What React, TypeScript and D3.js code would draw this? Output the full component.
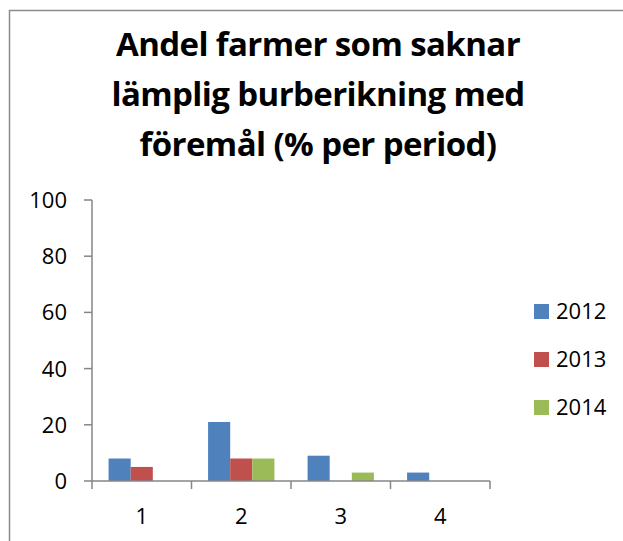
import React from "react";
import * as d3 from "d3";

const categories = ["1", "2", "3", "4"];
const seriesNames = ["2012", "2013", "2014"];
const values2012 = [8, 21, 9, 3];
const values2013 = [5, 8, 0, 0];
const values2014 = [0, 8, 3, 0];
const yTicks = [0, 20, 40, 60, 80, 100];
const titleLines = ["Andel farmer som saknar", "lämplig burberikning med", "föremål (% per period)"];
const colors = ["#4F81BD", "#C0504D", "#9BBB59"];

const W = 623;
const H = 541;
const FONT = "'Open Sans', sans-serif";

export default function App() {
  const series = [values2012, values2013, values2014];
  const x0 = d3.scaleBand<string>().domain(categories).range([92, 490]).paddingInner(0).paddingOuter(0);
  const bw = x0.bandwidth();
  const groupW = (bw / 4.5) * 3;
  const x1 = d3.scaleBand<string>().domain(seriesNames).range([(bw - groupW) / 2, (bw + groupW) / 2]);
  const y = d3.scaleLinear().domain([0, 100]).range([481, 200]);
  const axisColor = "#868686";

  return (
    <svg width={W} height={H} style={{ position: "absolute", left: 0, top: 0 }}>
      <rect x={0} y={0} width={W} height={H} fill="#fff" />
      <rect x={9.5} y={10.5} width={W + 20} height={H + 20} fill="none" stroke="#8c8c8c" strokeWidth={1.5} />
      {titleLines.map((t, i) => (
        <text key={i} x={318} y={56 + i * 50} textAnchor="middle" fontFamily={FONT} fontWeight="bold" fontSize={33} letterSpacing={-0.6} fill="#000">
          {t}
        </text>
      ))}
      {series.map((vals, si) =>
        vals.map((v, ci) =>
          v > 0 ? (
            <rect
              key={`${si}-${ci}`}
              x={(x0(categories[ci]) as number) + (x1(seriesNames[si]) as number)}
              y={y(v)}
              width={x1.bandwidth()}
              height={y(0) - y(v)}
              fill={colors[si]}
            />
          ) : null
        )
      )}
      <line x1={92} x2={92} y1={200} y2={481} stroke={axisColor} strokeWidth={1.5} />
      {yTicks.map((t) => (
        <g key={t}>
          <line x1={84} x2={92} y1={y(t)} y2={y(t)} stroke={axisColor} strokeWidth={1.5} />
          <text x={67} y={y(t)} dy="0.36em" textAnchor="end" fontFamily={FONT} fontSize={22} fill="#000">
            {t}
          </text>
        </g>
      ))}
      <line x1={92} x2={490} y1={481} y2={481} stroke={axisColor} strokeWidth={1.5} />
      {[...categories.map((c) => x0(c) as number), 490].map((xx, i) => (
        <line key={i} x1={xx} x2={xx} y1={481} y2={489} stroke={axisColor} strokeWidth={1.5} />
      ))}
      {categories.map((c) => (
        <text key={c} x={(x0(c) as number) + bw / 2} y={524} textAnchor="middle" fontFamily={FONT} fontSize={22} fill="#000">
          {c}
        </text>
      ))}
      {seriesNames.map((s, i) => (
        <g key={s}>
          <rect x={534} y={304 + i * 48} width={15} height={15} fill={colors[i]} />
          <text x={556} y={311.5 + i * 48} dy="0.36em" fontFamily={FONT} fontSize={22} fill="#000">
            {s}
          </text>
        </g>
      ))}
    </svg>
  );
}
